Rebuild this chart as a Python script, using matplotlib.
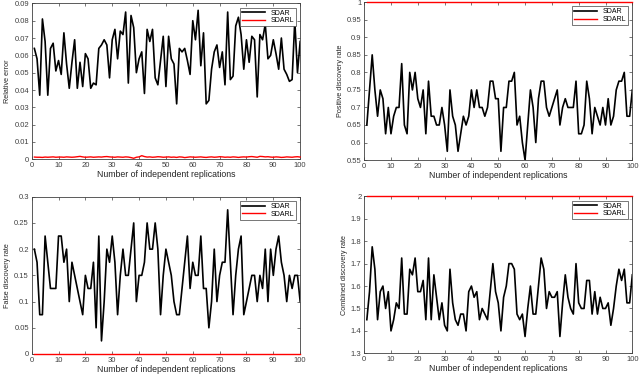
import matplotlib
matplotlib.use("Agg")
import matplotlib.pyplot as plt
from matplotlib.ticker import FormatStrFormatter, FuncFormatter

plt.rcParams['font.family'] = ['Liberation Sans', 'DejaVu Sans']

reps = list(range(1, 101))

sdar_re = [0.064, 0.058, 0.037, 0.081, 0.068, 0.037, 0.064, 0.067, 0.051, 0.057,
           0.049, 0.073, 0.055, 0.041, 0.056, 0.069, 0.041, 0.056, 0.042, 0.061,
           0.058, 0.041, 0.044, 0.043, 0.064, 0.066, 0.069, 0.066, 0.047, 0.069,
           0.075, 0.058, 0.074, 0.072, 0.085, 0.044, 0.083, 0.076, 0.050, 0.058,
           0.062, 0.038, 0.075, 0.068, 0.075, 0.047, 0.043, 0.057, 0.071, 0.042,
           0.071, 0.058, 0.055, 0.032, 0.064, 0.062, 0.064, 0.057, 0.049, 0.080,
           0.069, 0.086, 0.054, 0.073, 0.032, 0.034, 0.052, 0.062, 0.066, 0.053,
           0.062, 0.043, 0.085, 0.046, 0.048, 0.077, 0.082, 0.072, 0.052, 0.069,
           0.056, 0.071, 0.069, 0.036, 0.072, 0.069, 0.078, 0.058, 0.060, 0.069,
           0.061, 0.052, 0.070, 0.052, 0.049, 0.045, 0.046, 0.080, 0.050, 0.068]

sdarl_re = [0.0013, 0.0012, 0.0012, 0.0011, 0.0013, 0.0012, 0.0013, 0.0014, 0.0012, 0.0013,
            0.0013, 0.0012, 0.0014, 0.0013, 0.0012, 0.0013, 0.0015, 0.0017, 0.0014, 0.0012,
            0.0013, 0.0014, 0.0012, 0.0013, 0.0014, 0.0013, 0.0015, 0.0016, 0.0014, 0.0013,
            0.0012, 0.0014, 0.0013, 0.0012, 0.0014, 0.0013, 0.0010, 0.0006, 0.0012, 0.0014,
            0.0021, 0.0016, 0.0013, 0.0014, 0.0012, 0.0013, 0.0015, 0.0014, 0.0012, 0.0013,
            0.0014, 0.0012, 0.0013, 0.0011, 0.0014, 0.0013, 0.0010, 0.0012, 0.0014, 0.0013,
            0.0012, 0.0013, 0.0014, 0.0012, 0.0011, 0.0013, 0.0014, 0.0012, 0.0013, 0.0015,
            0.0014, 0.0012, 0.0013, 0.0012, 0.0014, 0.0013, 0.0011, 0.0013, 0.0014, 0.0013,
            0.0015, 0.0016, 0.0014, 0.0012, 0.0017, 0.0016, 0.0014, 0.0015, 0.0013, 0.0012,
            0.0014, 0.0013, 0.0011, 0.0012, 0.0014, 0.0013, 0.0012, 0.0014, 0.0015, 0.0013]

sdar_pdr = [0.65, 0.75, 0.85, 0.75, 0.675, 0.75, 0.725, 0.625, 0.7, 0.625,
            0.675, 0.7, 0.7, 0.825, 0.65, 0.625, 0.8, 0.75, 0.8, 0.725,
            0.7, 0.75, 0.625, 0.775, 0.675, 0.675, 0.65, 0.65, 0.7, 0.65,
            0.575, 0.75, 0.675, 0.65, 0.575, 0.625, 0.675, 0.65, 0.675, 0.75,
            0.7, 0.75, 0.7, 0.7, 0.675, 0.7, 0.775, 0.775, 0.725, 0.725,
            0.575, 0.7, 0.7, 0.775, 0.775, 0.8, 0.65, 0.675, 0.6, 0.55,
            0.65, 0.75, 0.7, 0.6, 0.725, 0.775, 0.775, 0.7, 0.675, 0.7,
            0.725, 0.75, 0.65, 0.7, 0.725, 0.7, 0.7, 0.7, 0.775, 0.625,
            0.625, 0.65, 0.775, 0.725, 0.625, 0.7, 0.675, 0.65, 0.7, 0.65,
            0.725, 0.65, 0.675, 0.75, 0.775, 0.775, 0.8, 0.675, 0.675, 0.75]
sdarl_pdr = [1.0] * 100

sdar_fdr = [0.2, 0.175, 0.075, 0.075, 0.225, 0.175, 0.125, 0.125, 0.125, 0.225,
            0.225, 0.175, 0.2, 0.1, 0.175, 0.15, 0.125, 0.1, 0.075, 0.15,
            0.125, 0.125, 0.175, 0.05, 0.225, 0.025, 0.1, 0.2, 0.175, 0.225,
            0.175, 0.075, 0.15, 0.2, 0.15, 0.15, 0.2, 0.25, 0.1, 0.15,
            0.15, 0.175, 0.25, 0.2, 0.2, 0.25, 0.2, 0.075, 0.15, 0.2,
            0.175, 0.15, 0.1, 0.075, 0.075, 0.125, 0.175, 0.225, 0.125, 0.175,
            0.15, 0.15, 0.225, 0.125, 0.125, 0.05, 0.1, 0.2, 0.1, 0.15,
            0.175, 0.175, 0.275, 0.175, 0.075, 0.15, 0.2, 0.225, 0.075, 0.1,
            0.125, 0.15, 0.15, 0.1, 0.15, 0.125, 0.2, 0.1, 0.2, 0.15,
            0.2, 0.225, 0.175, 0.15, 0.1, 0.15, 0.125, 0.15, 0.15, 0.1]
sdarl_fdr = [0.0] * 100

sdar_cdr = [1.45, 1.575, 1.775, 1.675, 1.45, 1.575, 1.6, 1.5, 1.575, 1.4,
            1.45, 1.525, 1.5, 1.725, 1.475, 1.475, 1.675, 1.65, 1.725, 1.575,
            1.575, 1.625, 1.45, 1.725, 1.45, 1.65, 1.55, 1.45, 1.525, 1.425,
            1.4, 1.675, 1.525, 1.45, 1.425, 1.475, 1.475, 1.4, 1.575, 1.6,
            1.55, 1.575, 1.45, 1.5, 1.475, 1.45, 1.575, 1.7, 1.575, 1.525,
            1.4, 1.55, 1.6, 1.7, 1.7, 1.675, 1.475, 1.45, 1.475, 1.375,
            1.5, 1.6, 1.475, 1.475, 1.6, 1.725, 1.675, 1.5, 1.575, 1.55,
            1.55, 1.575, 1.375, 1.525, 1.65, 1.55, 1.5, 1.475, 1.7, 1.525,
            1.5, 1.5, 1.625, 1.625, 1.475, 1.575, 1.475, 1.55, 1.5, 1.5,
            1.525, 1.425, 1.5, 1.6, 1.675, 1.625, 1.675, 1.525, 1.525, 1.65]
sdarl_cdr = [2.0] * 100

panels = [
    ("Relative error", sdar_re, sdarl_re, (0, 0.09), [i * 0.01 for i in range(10)]),
    ("Positive discovery rate", sdar_pdr, sdarl_pdr, (0.55, 1.0), [0.55 + i * 0.05 for i in range(10)]),
    ("False discovery rate", sdar_fdr, sdarl_fdr, (0, 0.3), [i * 0.05 for i in range(7)]),
    ("Combined discovery rate", sdar_cdr, sdarl_cdr, (1.3, 2.0), [1.3 + i * 0.1 for i in range(8)]),
]

positions = [
    [0.0495, 0.574, 0.4195, 0.417],
    [0.569, 0.572, 0.419, 0.422],
    [0.0495, 0.0535, 0.4195, 0.4205],
    [0.569, 0.0553, 0.419, 0.4197],
]

gray = '#404040'
fig = plt.figure(figsize=(6.4, 3.74), dpi=100)
for (ylab, s1, s2, ylim, yt), pos in zip(panels, positions):
    ax = fig.add_axes(pos)
    ax.plot(reps, s1, color='black', lw=1.2, label='SDAR')
    ax.plot(reps, s2, color='red', lw=1.0, label='SDARL', clip_on=False, zorder=3)
    ax.set_xlim(0, 100)
    ax.set_ylim(*ylim)
    ax.set_xticks(range(0, 101, 10))
    ax.set_yticks(yt)
    ax.yaxis.set_major_formatter(FuncFormatter(lambda v, p: ('%.2f' % v).rstrip('0').rstrip('.') if abs(v) > 1e-9 else '0'))
    ax.tick_params(direction='in', length=2.5, width=0.5, colors=gray, labelsize=5.5,
                   top=True, right=True, pad=2)
    for sp in ax.spines.values():
        sp.set_color(gray)
        sp.set_linewidth(0.6)
    ax.set_xlabel('Number of independent replications', fontsize=6.3, color='#262626', labelpad=1)
    ax.set_ylabel(ylab, fontsize=5.2, color='#262626', labelpad=2)
    leg = ax.legend(loc='upper right', fontsize=5, handlelength=3.3, borderpad=0.3,
                    labelspacing=0.1, handletextpad=0.8, borderaxespad=0.6,
                    fancybox=False, framealpha=1, edgecolor=gray)
    leg.get_frame().set_linewidth(0.5)

fig.savefig('out.png', dpi=100)
